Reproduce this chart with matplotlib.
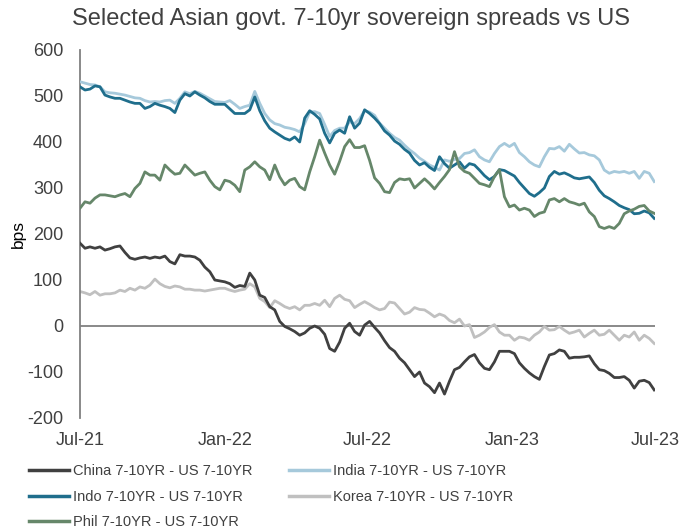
import matplotlib
matplotlib.use("Agg")
import matplotlib.pyplot as plt
from matplotlib import font_manager
import pandas as pd

# ---------------- data (bps, ~weekly from Jul-21 to end Jun-23) -------------
series_names = ["China 7-10YR - US 7-10YR", "Indo 7-10YR - US 7-10YR", "Phil 7-10YR - US 7-10YR",
                "India 7-10YR - US 7-10YR", "Korea 7-10YR - US 7-10YR"]

china = [180, 169, 172, 169, 172, 165, 168, 172, 174, 160, 148, 145, 148, 150, 147, 150, 148, 152, 140, 135,
         155, 152, 152, 150, 143, 128, 118, 100, 98, 96, 92, 84, 88, 86, 115, 100, 67, 62, 42, 35,
         10, -1, -6, -12, -20, -15, -5, 0, -5, -18, -49, -55, -35, -5, 6, -12, -20, 2, 10, -3,
         -15, -32, -47, -55, -70, -80, -95, -110, -100, -124, -132, -145, -124, -148, -120, -95, -90, -78, -67, -62,
         -80, -92, -95, -78, -55, -55, -55, -60, -80, -92, -102, -110, -116, -88, -63, -60, -52, -55, -70, -68,
         -68, -67, -65, -82, -95, -97, -103, -112, -112, -110, -118, -135, -120, -118, -123, -139]

indo = [520, 513, 515, 522, 520, 502, 498, 495, 495, 491, 487, 484, 484, 473, 477, 484, 480, 477, 473, 464,
        491, 505, 500, 509, 502, 496, 488, 482, 482, 482, 472, 462, 462, 462, 470, 498, 468, 446, 430, 422,
        415, 408, 404, 411, 400, 452, 468, 460, 450, 419, 398, 419, 426, 419, 455, 430, 441, 470, 462, 452,
        440, 424, 415, 402, 395, 384, 376, 360, 350, 355, 345, 338, 368, 353, 343, 350, 357, 343, 353, 350,
        339, 327, 318, 325, 340, 338, 332, 326, 312, 300, 288, 282, 290, 300, 325, 336, 330, 333, 328, 322,
        320, 322, 324, 312, 295, 283, 277, 270, 262, 257, 253, 244, 245, 250, 246, 234]

phil = [256, 270, 267, 278, 285, 285, 283, 281, 285, 288, 281, 299, 310, 335, 328, 328, 317, 350, 339, 330,
        332, 350, 339, 328, 332, 335, 317, 303, 296, 317, 314, 306, 292, 339, 346, 357, 346, 339, 318, 350,
        324, 307, 317, 321, 303, 296, 335, 368, 404, 376, 350, 330, 358, 390, 405, 388, 388, 392, 360, 322,
        310, 292, 290, 312, 320, 318, 320, 300, 310, 320, 310, 298, 312, 325, 340, 379, 346, 336, 332, 321,
        310, 307, 303, 325, 340, 281, 259, 263, 252, 256, 252, 238, 245, 248, 274, 277, 270, 277, 270, 267,
        263, 267, 248, 238, 216, 212, 216, 212, 223, 244, 250, 254, 260, 262, 250, 245]

india = [531, 528, 525, 524, 520, 509, 507, 506, 504, 502, 499, 496, 495, 490, 487, 488, 487, 490, 491, 484,
         495, 509, 505, 510, 506, 500, 494, 488, 487, 486, 490, 482, 473, 477, 480, 510, 484, 462, 448, 440,
         437, 432, 430, 427, 422, 440, 465, 466, 462, 438, 412, 425, 430, 430, 444, 440, 451, 468, 465, 458,
         441, 430, 419, 410, 404, 393, 383, 375, 365, 358, 350, 345, 339, 361, 358, 362, 364, 375, 377, 383,
         368, 361, 357, 375, 390, 397, 390, 397, 377, 368, 357, 350, 346, 368, 386, 385, 390, 380, 395, 385,
         376, 377, 372, 370, 361, 339, 332, 336, 334, 336, 332, 336, 321, 336, 332, 314]

korea = [75, 72, 68, 75, 67, 70, 70, 72, 78, 75, 82, 78, 85, 82, 89, 102, 92, 86, 83, 87,
         85, 80, 80, 78, 78, 76, 78, 80, 82, 82, 78, 75, 78, 80, 92, 85, 60, 53, 40, 55,
         49, 42, 38, 42, 35, 45, 45, 49, 45, 56, 42, 60, 67, 58, 55, 40, 47, 53, 47, 40,
         35, 38, 52, 50, 38, 26, 30, 40, 36, 35, 28, 20, 26, 22, 12, 7, 15, 0, 3, -25,
         -20, -13, -3, 3, -13, -20, -20, -31, -24, -26, -31, -20, -13, -1, -9, -8, -1, -9, -16, -13,
         -9, -24, -16, -9, -20, -18, -9, -20, -31, -20, -24, -13, -31, -20, -27, -38]

start_date, end_date = "2021-07-01", "2023-06-30"
xtick_dates = ["2021-07-01", "2022-01-01", "2022-07-01", "2023-01-01", "2023-07-01"]
xtick_labels = ["Jul-21", "Jan-22", "Jul-22", "Jan-23", "Jul-23"]
yticks = [-200, -100, 0, 100, 200, 300, 400, 500, 600]

# ---------------- styling ----------------
names = {f.name for f in font_manager.fontManager.ttflist}
base_font = "Liberation Sans" if "Liberation Sans" in names else "DejaVu Sans"
plt.rcParams["font.family"] = [base_font, "DejaVu Sans"]
plt.rcParams["axes.unicode_minus"] = False

colors = {"China": "#404040", "Indo": "#1F6E8C", "Phil": "#66876A", "India": "#A6C9DB", "Korea": "#C0C0C0"}
zorders = {"China": 3, "Indo": 5, "Phil": 6, "India": 4, "Korea": 2}

fig = plt.figure(figsize=(6.99, 5.31), dpi=100)
ax = fig.add_axes([80 / 699, 1 - 418 / 531, (655 - 80) / 699, (418 - 50) / 531])

data = [("China", china), ("Indo", indo), ("Phil", phil), ("India", india), ("Korea", korea)]
handles = []
for (key, vals), label in zip(data, series_names):
    dates = pd.date_range(start_date, end_date, periods=len(vals))
    h, = ax.plot(dates, vals, color=colors[key], lw=2.0, zorder=zorders[key], label=label,
                 solid_joinstyle="round")
    handles.append(h)

ax.axhline(0, color="#808080", lw=1.3, zorder=1)

ax.set_xlim(pd.Timestamp("2021-07-01"), pd.Timestamp("2023-07-01"))
ax.set_ylim(-200, 600)
ax.set_yticks(yticks)
ax.set_xticks(pd.to_datetime(xtick_dates))
ax.set_xticklabels(xtick_labels)
ax.tick_params(axis="both", length=0, labelsize=13, colors="#404040")
ax.tick_params(axis="x", pad=10)
ax.tick_params(axis="y", pad=12)

for s in ["top", "right", "bottom"]:
    ax.spines[s].set_visible(False)
ax.spines["left"].set_color("#808080")
ax.spines["left"].set_linewidth(1.3)

ax.set_ylabel("bps", fontsize=12.5, color="black", labelpad=1)
fig.suptitle("Selected Asian govt. 7-10yr sovereign spreads vs US", fontsize=17, color="#404040",
             x=351 / 699, y=1 - 8 / 531, va="top")

leg = fig.legend(handles=handles, labels=series_names, loc="upper left", ncol=2,
                 bbox_to_anchor=(29 / 699, 1 - 464 / 531), frameon=False,
                 prop={"size": 10.5},
                 handlelength=2.74, handletextpad=0.27, columnspacing=2.5, labelspacing=0.8,
                 borderpad=0, borderaxespad=0)
for t in leg.get_texts():
    t.set_color("#404040")
for lh in leg.get_lines():
    lh.set_linewidth(2.5)

fig.savefig("out.png", dpi=100)
